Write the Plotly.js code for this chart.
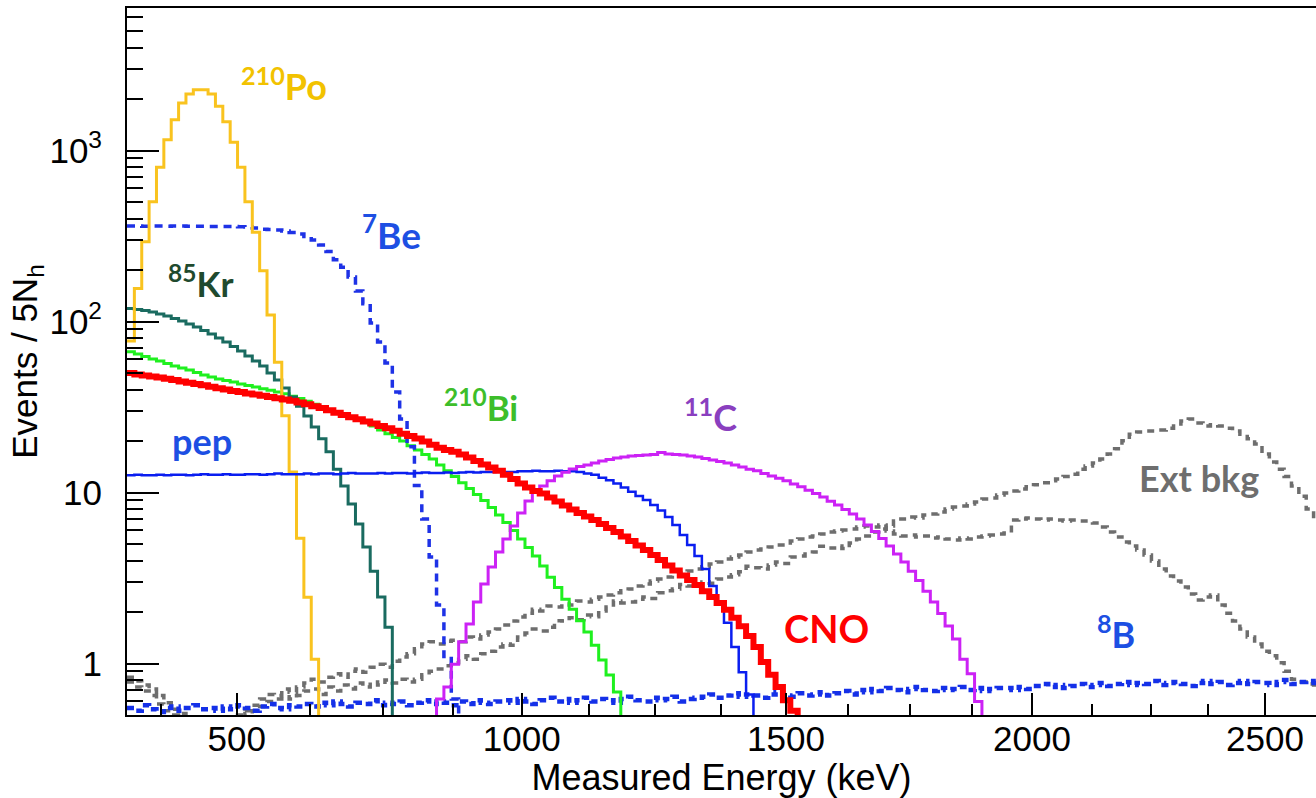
<!DOCTYPE html>
<html><head><meta charset="utf-8">
<script src="https://cdn.plot.ly/plotly-3.0.1.min.js"></script>
<style>html,body{margin:0;padding:0;background:#fff;overflow:hidden}#chart{width:1316px;height:798px}</style>
</head><body><div id="chart"></div>
<script>
// Binning: histograms in N_h (number of hits), 5 hits per bin, first bin edge at 92 hits
const NH_FIRST_EDGE = 92;
const NH_BIN = 5;

// Energy axis (labels in keV, placed at their N_h position)
const tickEnergy = [500, 1000, 1500, 2000, 2500];
const tickNh = [166.4, 359.8, 539.1, 706.0, 864.0];
const minorEnergy = [375, 625, 750, 875, 1125, 1250, 1375, 1625, 1750, 1875, 2125, 2250, 2375];
const minorNh = [115.3, 216.2, 265.5, 313.2, 405.4, 450.5, 494.8, 580.9, 623.2, 665.1, 746.5, 786.5, 825.4];

// Series values (events / 5 N_h), one per bin, starting at the given bin index
const po210Start = 0;
const po210 = [77, 156, 293, 502, 798, 1156, 1514, 1896, 2140, 2268, 2268, 2140, 1813, 1474, 1117, 798, 502, 333, 198, 109, 57.7, 28.1, 13.2, 5.4, 2.44, 1.06];

const kr85Start = 0;
const kr85 = [119, 117.5, 116, 113.7, 110.6, 107.7, 104.2, 100.7, 96.7, 92.9, 88.5, 84.5, 80.1, 75.9, 71.4, 67.2, 62.8, 58.7, 54.9, 50, 45.5, 40.8, 36.2, 32, 28, 24.2, 20.6, 17.3, 13.7, 10.9, 8.57, 6.54, 4.8, 3.47, 2.45, 1.63];

const bi210Start = 0;
const bi210 = [66.5, 64.5, 62.4, 60.4, 58.7, 56.8, 54.9, 53.5, 52.0, 50.3,
  48.7, 47.4, 46.1, 45.2, 44.3, 43.1, 42.3, 41.4, 40.5, 39.6,
  38.7, 37.8, 36.5, 35.5, 34.2, 32.8, 31.4, 30.6, 29.5, 28.6,
  27.6, 26.6, 25.7, 24.5, 23.2, 22.1, 21.0, 20.0, 18.8, 17.7,
  16.7, 15.7, 14.5, 13.4, 12.4, 11.4, 10.55, 9.73, 8.98, 8.17,
  7.39, 6.68, 6.00, 5.35, 4.77, 4.25, 3.72, 3.20, 2.78, 2.38,
  2.08, 1.78, 1.53, 1.28, 1.05, 0.857, 0.681];

const cnoStart = 0;
const cno = [50.0, 49.0, 48.3, 47.7, 47.0, 46.3, 45.5, 44.6, 43.8, 43.1,
  42.4, 41.5, 40.7, 40.0, 39.3, 38.7, 38.0, 37.4, 36.8, 36.2,
  35.6, 35.0, 34.4, 33.6, 32.8, 32.0, 31.2, 30.3, 29.3, 28.4,
  27.6, 26.8, 26.0, 25.3, 24.5, 23.8, 23.0, 22.1, 21.4, 20.7,
  19.9, 19.0, 18.3, 17.7, 17.3, 16.7, 16.0, 15.3, 14.6, 14.0,
  13.4, 12.7, 12.0, 11.3, 10.7, 10.2, 9.87, 9.35, 8.86, 8.39,
  7.95, 7.59, 7.24, 6.90, 6.54, 6.20, 5.87, 5.53, 5.20, 4.90,
  4.61, 4.31, 4.03, 3.74, 3.50, 3.27, 3.08, 2.88, 2.65, 2.45,
  2.26, 2.06, 1.85, 1.65, 1.45, 1.25, 1.02, 0.86, 0.73, 0.61,
  0.53];

const pepStart = 0;
const pep = [12.6, 12.7, 12.6, 12.6, 12.7, 12.6,
  12.7, 12.7, 12.6, 12.7, 12.8, 12.7, 12.7, 12.8, 12.7, 12.7,
  12.8, 12.8, 12.7, 12.8, 12.9, 12.8, 12.8, 12.8, 12.9, 12.8,
  12.9, 12.9, 12.8, 12.9, 13.0, 12.9, 12.9, 12.9, 13.0, 12.9, 13.0,
  13.0, 12.9, 13.0, 13.1, 13.0, 13.0, 13.1, 13.0, 13.1,
  13.2, 13.1, 13.2, 13.2, 13.3, 13.2, 13.2, 13.3,
  13.3, 13.4, 13.3, 13.3, 13.4, 13.3, 13.3, 13.2,
  12.9, 12.7,
  12.2, 11.8, 11.3, 10.7, 10.1, 9.54, 9.04, 8.45, 7.85, 7.19, 6.46, 5.64, 4.93, 4.25, 3.57, 2.84, 2.26, 1.73, 1.25, 0.89, 0.66];

const be7Start = 0;
const be7 = [362, 362, 361, 362, 362, 361, 362, 362, 361, 361, 361, 360, 360, 359, 359, 358,
  357, 352, 347, 345, 343, 338, 332, 325, 314, 300, 280, 257, 230, 208, 182, 151, 127, 98, 75.9, 57.2,
  38.7, 26.9, 18.5, 11.0, 7.0, 4.2, 2.2, 1.1, 0.62];

const c11Start = 42;
const c11 = [0.62, 0.73, 0.99, 1.34, 1.70, 2.29, 2.92, 3.67, 4.49, 5.35,
  6.37, 7.59, 8.92, 10.07, 10.9, 11.72, 12.49, 13.13, 13.72, 14.19,
  14.48, 14.88, 15.29, 15.6, 15.91, 16.13, 16.35, 16.46, 16.57, 16.68,
  17.14, 16.80, 16.68, 16.57, 16.35, 16.13, 15.8, 15.5, 15.2, 14.9,
  14.5, 14.1, 13.7, 13.4, 12.9, 12.5, 12.1, 11.7, 11.2, 10.8,
  10.3, 9.87, 9.4, 8.9, 8.45, 7.96, 7.5, 7.0, 6.46, 5.91,
  5.38, 4.87, 4.37, 3.92, 3.47, 3.06, 2.65, 2.29, 1.96, 1.66,
  1.39, 1.06, 0.87, 0.60];

const b8Start = 0;
const b8 = [0.55, 0.53, 0.57, 0.54, 0.52, 0.55, 0.56, 0.53, 0.55, 0.57, 0.54, 0.55, 0.53, 0.56, 0.54, 0.57, 0.55, 0.53, 0.56, 0.58, 0.55, 0.54, 0.57, 0.56,
  0.58, 0.56, 0.59, 0.57, 0.60, 0.58, 0.56, 0.59, 0.58, 0.61, 0.57, 0.59, 0.58, 0.60, 0.57, 0.59, 0.61, 0.58, 0.60, 0.59, 0.57, 0.60, 0.58, 0.61, 0.59, 0.58, 0.60,
  0.61, 0.59, 0.62, 0.60, 0.58, 0.61, 0.63, 0.60, 0.62, 0.59, 0.61, 0.63, 0.60, 0.62, 0.61, 0.59, 0.62, 0.64, 0.61, 0.60, 0.63, 0.61, 0.62, 0.64, 0.60, 0.62, 0.63,
  0.64, 0.66, 0.63, 0.65, 0.67, 0.64, 0.66, 0.65, 0.63, 0.66, 0.68, 0.65, 0.64, 0.67, 0.65, 0.66, 0.68, 0.65, 0.67, 0.69, 0.66,
  0.70, 0.68, 0.71, 0.69, 0.72, 0.70, 0.68, 0.71, 0.73, 0.70, 0.69, 0.72, 0.70, 0.71, 0.73, 0.70, 0.72, 0.69, 0.71, 0.72,
  0.72, 0.70, 0.73, 0.71, 0.74, 0.76, 0.73, 0.75, 0.72, 0.74, 0.76, 0.73, 0.75,
  0.77, 0.74, 0.76, 0.78, 0.75, 0.77, 0.76, 0.79, 0.75, 0.77, 0.78, 0.76, 0.74, 0.77, 0.79, 0.76, 0.78, 0.75, 0.77, 0.79, 0.76, 0.78, 0.77, 0.75, 0.78, 0.80, 0.76, 0.78, 0.79, 0.77];

// External background: two components
const extHighStart = 0;
const extHigh = [0.78, 0.73, 0.69, 0.65, 0.58, 0.53, 0.50, 0.47, 0.47, 0.47,
  0.47, 0.47, 0.47, 0.47, 0.47, 0.47, 0.51, 0.53, 0.56, 0.60,
  0.62, 0.64, 0.62, 0.65, 0.69, 0.71, 0.66, 0.73, 0.69, 0.75,
  0.71, 0.77, 0.73, 0.78, 0.75, 0.80, 0.77, 0.81, 0.78, 0.81,
  0.86, 0.90, 0.93, 0.97, 1.01, 1.06, 1.11, 1.06, 1.14, 1.18,
  1.25, 1.30, 1.28, 1.43, 1.51, 1.59, 1.55, 1.63, 1.78, 1.77,
  1.85, 1.80, 1.92, 1.88, 2.03, 2.14, 2.32, 2.26, 2.29, 2.38,
  2.45, 2.40, 2.59, 2.66, 2.73, 2.90, 2.84, 2.92, 3.00, 2.95,
  3.12, 3.21, 3.30, 3.44, 3.70, 3.63, 3.57, 3.77, 3.93, 3.85,
  4.20, 4.25, 4.37, 4.49, 4.85, 4.74, 4.87, 4.70, 5.07, 5.35,
  5.57, 5.88, 6.12, 6.37, 6.81, 7.00, 7.19, 7.10, 7.38, 7.48,
  7.69, 8.01, 8.23, 8.34, 8.56, 8.80, 9.16, 9.28, 9.67, 9.93,
  10.2, 10.5, 10.8, 11.1, 11.4, 11.7, 12.0, 12.4, 12.8, 13.7,
  14.3, 14.9, 15.7, 16.8, 18.0, 20.1, 21.9, 22.6, 22.9, 22.9,
  23.2, 23.8, 25.2, 26.2, 26.9, 25.5, 24.5, 24.9, 24.5, 23.8,
  22.9, 21.9, 20.6, 19.2, 16.8, 15.1, 13.7, 12.4, 10.9, 9.5,
  8.0, 6.8];

const extLowStart = 0;
const extLow = [0.83, 0.79, 0.75, 0.71, 0.65, 0.59, 0.54, 0.51, 0.47, 0.47,
  0.47, 0.47, 0.47, 0.47, 0.47, 0.50, 0.53, 0.57, 0.62, 0.66,
  0.65, 0.71, 0.68, 0.73, 0.77, 0.81, 0.78, 0.83, 0.87, 0.83,
  0.90, 0.93, 0.89, 0.95, 0.99, 0.95, 1.03, 1.09, 1.14, 1.22,
  1.30, 1.34, 1.30, 1.35, 1.37, 1.34, 1.43, 1.39, 1.47, 1.53,
  1.59, 1.68, 1.77, 1.87, 1.97, 2.08, 2.03, 2.17, 2.14, 2.23,
  2.20, 2.32, 2.29, 2.38, 2.45, 2.52, 2.59, 2.66, 2.73, 2.84,
  2.92, 3.04, 3.12, 3.21, 3.30, 3.39, 3.48, 3.57, 3.68, 3.82,
  3.93, 4.08, 4.20, 4.31, 4.49, 4.61, 4.67, 4.80, 4.93, 5.07,
  5.21, 5.35, 5.50, 5.57, 5.72, 5.88, 5.96, 6.04, 6.12, 6.29,
  6.37, 6.29, 6.46, 5.96, 5.72, 5.57, 5.64, 5.50, 5.57, 5.42,
  5.50, 5.35, 5.28, 5.42, 5.35, 5.50, 5.57, 5.64, 5.72, 5.80,
  6.91, 7.00, 7.10, 7.00, 6.91, 7.00, 6.91, 6.81, 6.91, 6.81,
  6.81, 6.63, 6.29, 5.88, 5.50, 5.14, 4.87, 4.61, 4.31, 3.98,
  3.57, 3.25, 3.04, 2.80, 2.55, 2.35, 2.45, 2.52, 2.20, 1.97,
  1.77, 1.59, 1.43, 1.30, 1.18, 1.11, 1.01, 0.90, 0.81, 0.78,
  0.76, 0.75];

// Labels
const labels = {
  po: '<sup>210</sup>Po', be: '<sup>7</sup>Be', kr: '<sup>85</sup>Kr', pep: 'pep',
  bi: '<sup>210</sup>Bi', c: '<sup>11</sup>C', cno: 'CNO', b8: '<sup>8</sup>B', ext: 'Ext bkg'
};

const FLOOR = 0.01; // below the visible axis range, used to close histogram edges

function stepTrace(start, vals, color, width, dash, riseFromFloor) {
  const xs = [], ys = [];
  if (riseFromFloor) { xs.push(NH_FIRST_EDGE + NH_BIN * start); ys.push(FLOOR); }
  vals.forEach((v, i) => { xs.push(NH_FIRST_EDGE + NH_BIN * (start + i)); ys.push(v); });
  const end = NH_FIRST_EDGE + NH_BIN * (start + vals.length);
  xs.push(end); ys.push(vals[vals.length - 1]);
  xs.push(end); ys.push(FLOOR);
  return {type: 'scatter', mode: 'lines', x: xs, y: ys,
    line: {shape: 'hv', color: color, width: width, dash: dash || 'solid'},
    hoverinfo: 'skip', showlegend: false};
}

const data = [
  stepTrace(extLowStart, extLow, '#6e6e6e', 3.5, '7px,6px', false),
  stepTrace(extHighStart, extHigh, '#6e6e6e', 3.5, '7px,6px', false),
  stepTrace(b8Start, b8, '#1430e8', 4.5, '7px,5px', false),
  stepTrace(bi210Start, bi210, '#1ff01f', 3, 'solid', false),
  stepTrace(kr85Start, kr85, '#1a6b60', 3, 'solid', false),
  stepTrace(be7Start, be7, '#1e32e6', 3.5, '8px,6px', false),
  stepTrace(po210Start, po210, '#f9c31f', 3, 'solid', false),
  stepTrace(pepStart, pep, '#0a1ef0', 2.5, 'solid', false),
  stepTrace(c11Start, c11, '#cc22f5', 3, 'solid', true),
  stepTrace(cnoStart, cno, '#ff0000', 6, 'solid', false)
];

const AXFONT = 'Liberation Sans, Arial, Helvetica, sans-serif';
const LBLFONT = 'Lato, Noto Sans, sans-serif';
const PX_L = 127, PX_W = 1189, PX_B = 715, PX_H = 707;
function ann(text, px, py, color, size) {
  return {text: text, xref: 'paper', yref: 'paper', x: (px - PX_L) / PX_W, y: (PX_B - py) / PX_H,
    xanchor: 'center', yanchor: 'middle', showarrow: false,
    font: {family: LBLFONT, size: size, color: color, weight: 'bold'}};
}

const yMin = 0.5;
const layout = {
  width: 1316, height: 798,
  margin: {l: 127, r: 0, t: 8, b: 83, pad: 0},
  paper_bgcolor: '#ffffff', plot_bgcolor: '#ffffff',
  showlegend: false,
  xaxis: {
    range: [NH_FIRST_EDGE, NH_FIRST_EDGE + 806.64],
    tickmode: 'array', tickvals: tickNh, ticktext: tickEnergy.map(String),
    ticks: 'inside', ticklen: 22, tickwidth: 2, tickcolor: '#000',
    showline: true, linecolor: '#000', linewidth: 2, mirror: true,
    showgrid: false, zeroline: false, automargin: false, fixedrange: true,
    tickfont: {family: AXFONT, size: 35, color: '#000'},
    ticklabelstandoff: -8,
    minor: {tickmode: 'array', tickvals: minorNh, ticks: 'inside', ticklen: 11, tickwidth: 2, tickcolor: '#000', showgrid: false},
    title: {text: 'Measured Energy (keV)', font: {family: AXFONT, size: 36, color: '#000'}, standoff: 14}
  },
  yaxis: {
    type: 'log',
    range: [Math.log10(yMin), Math.log10(yMin) + PX_H / 171],
    tickmode: 'array', tickvals: [1, 10, 100, 1000], ticktext: ['1', '10', '10<sup>2</sup>', '10<sup>3</sup>'],
    ticks: 'inside', ticklen: 32, tickwidth: 2, tickcolor: '#000',
    showline: true, linecolor: '#000', linewidth: 2, mirror: false,
    showgrid: false, zeroline: false, automargin: false, fixedrange: true,
    tickfont: {family: AXFONT, size: 35, color: '#000'},
    ticklabelstandoff: 16,
    minor: {tickmode: 'array', tickvals: [0.6, 0.7, 0.8, 0.9, 2, 3, 4, 5, 6, 7, 8, 9, 20, 30, 40, 50, 60, 70, 80, 90, 200, 300, 400, 500, 600, 700, 800, 900, 2000, 3000, 4000, 5000, 6000],
      ticks: 'inside', ticklen: 16, tickwidth: 2, tickcolor: '#000', showgrid: false},
    title: {text: 'Events / 5N<sub>h</sub>', font: {family: AXFONT, size: 35, color: '#000'}, standoff: 0}
  },
  annotations: [
    ann(labels.po, 284, 84, '#f2c200', 36),
    ann(labels.be, 391, 232, '#1d4fe3', 37),
    ann(labels.kr, 200, 281, '#1f4a2e', 35),
    ann(labels.pep, 202, 441, '#1d4fe3', 36),
    ann(labels.bi, 481, 405, '#3dbe2a', 35),
    ann(labels.c, 710, 415, '#8a3fbf', 36),
    ann(labels.cno, 826, 628, '#ff0000', 38),
    ann(labels.b8, 1116, 632, '#1d4fe3', 36),
    ann(labels.ext, 1199, 478, '#6e6e6e', 36)
  ]
};

Plotly.newPlot('chart', data, layout, {staticPlot: true, displayModeBar: false});
</script>
</body></html>
